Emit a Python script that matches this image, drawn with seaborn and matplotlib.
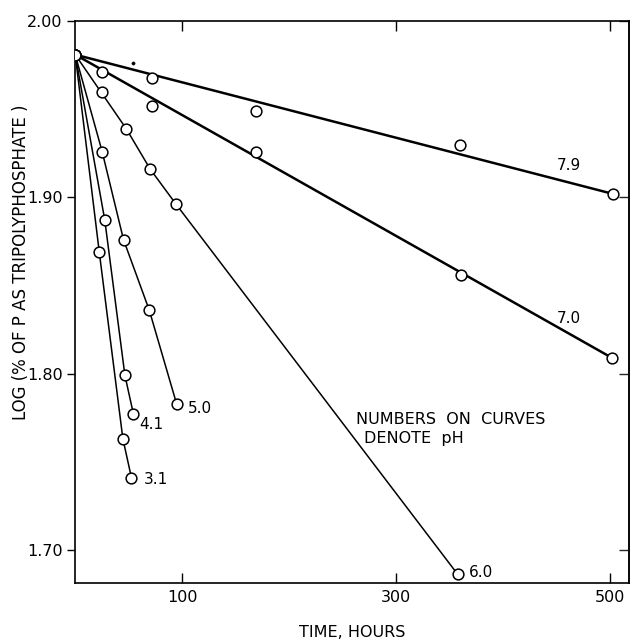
import matplotlib
matplotlib.use("Agg")
import matplotlib.pyplot as plt
import seaborn as sns
import pandas as pd

# ---- data ----
ph_labels = ["7.9", "7.0", "6.0", "5.0", "4.1", "3.1"]

t_79 = [0, 24.6, 71.4, 169.3, 360.0, 503.0]
y_79 = [1.981, 1.971, 1.968, 1.949, 1.930, 1.902]
t_70 = [0, 24.6, 71.4, 169.3, 361.0, 502.0]
y_70 = [1.981, 1.960, 1.952, 1.926, 1.856, 1.809]
t_60 = [0, 47.7, 70.2, 94.5, 358.0]
y_60 = [1.981, 1.939, 1.916, 1.896, 1.686]
t_50 = [0, 25.2, 45.2, 69.3, 94.8]
y_50 = [1.981, 1.926, 1.876, 1.836, 1.783]
t_41 = [0, 27.7, 46.5, 54.5]
y_41 = [1.981, 1.887, 1.799, 1.777]
t_31 = [0, 22.5, 44.6, 52.6]
y_31 = [1.981, 1.869, 1.763, 1.741]

# straight fitted lines (start, end) for the two slow curves
fit_t_79 = [0, 503.0]
fit_y_79 = [1.981, 1.902]
fit_t_70 = [0, 502.0]
fit_y_70 = [1.981, 1.809]

# label anchor positions (data coords)
lab_t = [451.0, 451.0, 368.0, 105.0, 60.0, 64.5]
lab_y = [1.918, 1.831, 1.687, 1.780, 1.771, 1.740]

note_lines = ["NUMBERS  ON  CURVES", "DENOTE  pH"]
note_t = [263.0, 270.0]
note_y = [1.774, 1.763]

speck_t = [53.8]
speck_y = [1.976]

x_ticks = [100, 300, 500]
x_ticklabels = ["100", "300", "500"]
y_ticks = [1.70, 1.80, 1.90, 2.00]
y_ticklabels = ["1.70", "1.80", "1.90", "2.00"]

# ---- build a long table ----
pts = pd.concat([
    pd.DataFrame({"t": t, "y": y, "pH": p})
    for t, y, p in zip([t_79, t_70, t_60, t_50, t_41, t_31],
                       [y_79, y_70, y_60, y_50, y_41, y_31], ph_labels)
], ignore_index=True)

sns.set_theme(style="ticks")
plt.rcParams["font.family"] = ["DejaVu Sans"]

fig = plt.figure(figsize=(6.32, 6.41), dpi=100)
ax = fig.add_axes([0.119, 0.090, 0.876, 0.877])

# lines
sns.lineplot(x=fit_t_79, y=fit_y_79, color="black", lw=1.8, ax=ax, zorder=2)
sns.lineplot(x=fit_t_70, y=fit_y_70, color="black", lw=1.8, ax=ax, zorder=2)
for t, y in zip([t_60, t_50, t_41, t_31], [y_60, y_50, y_41, y_31]):
    sns.lineplot(x=t, y=y, color="black", lw=1.1, sort=False,
                 estimator=None, ax=ax, zorder=2)

# points
sns.scatterplot(data=pts, x="t", y="y", marker="o", s=60, color="white",
                edgecolor="black", linewidth=1.1, ax=ax, zorder=3, legend=False)
sns.scatterplot(x=speck_t, y=speck_y, s=6, color="black", edgecolor="black",
                ax=ax, zorder=3, legend=False)

for lab, tx, ty in zip(ph_labels, lab_t, lab_y):
    ax.text(tx, ty, lab, fontsize=11, ha="left", va="center", color="black")
for line, tx, ty in zip(note_lines, note_t, note_y):
    ax.text(tx, ty, line, fontsize=11.5, ha="left", va="center", color="black")

ax.set_xlim(0, 518)
ax.set_ylim(1.681, 2.0)
ax.set_xticks(x_ticks)
ax.set_xticklabels(x_ticklabels)
ax.set_yticks(y_ticks)
ax.set_yticklabels(y_ticklabels)
ax.tick_params(axis="x", direction="in", length=7, width=1.0, top=True,
               labelsize=11.5, pad=5, colors="black")
ax.tick_params(axis="y", direction="out", length=6, width=1.0, right=False,
               labelsize=11.5, pad=3, colors="black")
sec = ax.secondary_yaxis("right")
sec.set_yticks(y_ticks)
sec.tick_params(direction="in", length=7, width=1.0, labelright=False)
sec.spines["right"].set_linewidth(1.2)

for sp in ax.spines.values():
    sp.set_visible(True)
    sp.set_linewidth(1.2)
    sp.set_color("black")

ax.set_xlabel("TIME, HOURS", fontsize=11.5, labelpad=14, color="black")
ax.set_ylabel("LOG (% OF P AS TRIPOLYPHOSPHATE )", fontsize=12, color="black")
ax.yaxis.set_label_coords(-0.081, 0.571)

fig.savefig("out.png", dpi=100, facecolor="white")
